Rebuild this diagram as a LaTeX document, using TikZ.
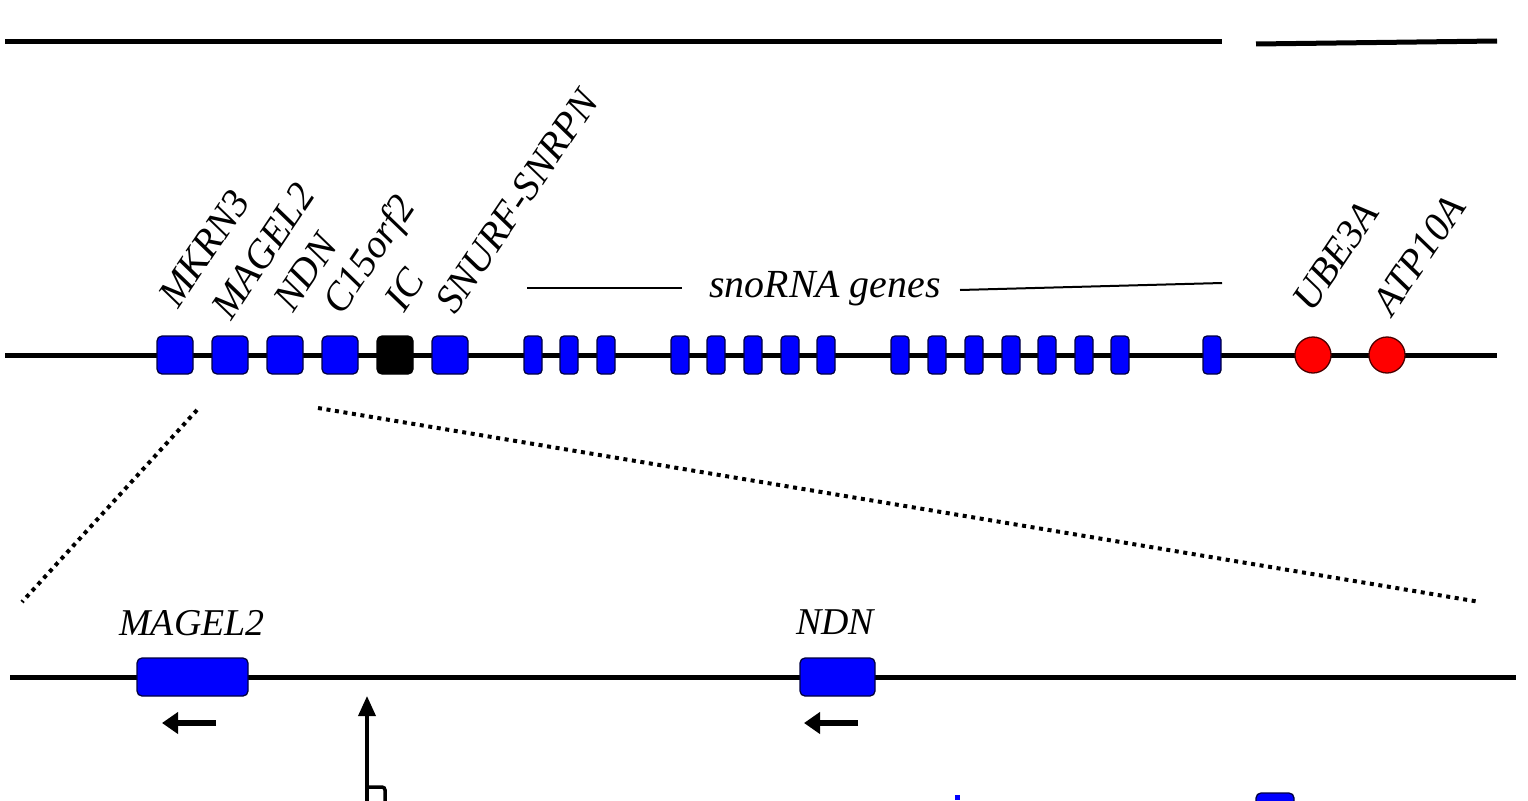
\documentclass[tikz,border=0pt]{standalone}
\usepackage{fontspec}
\setmainfont{Liberation Serif}
\usetikzlibrary{arrows.meta}
\begin{document}
\begin{tikzpicture}[x=1bp,y=-1bp,
  chrom/.style={line width=5bp, black},
  gbox/.style={draw=black!75!blue, line width=1.3bp, fill=blue, rounded corners=5bp, inner sep=0pt, minimum width=36bp, minimum height=38bp},
  sbox/.style={gbox, minimum width=18bp, rounded corners=4bp},
  icbox/.style={gbox, fill=black, draw=black},
  rcirc/.style={circle, draw=black!70!red, line width=1.3bp, fill=red, inner sep=0pt, minimum size=36bp},
  glabel/.style={font=\fontsize{40}{48}\selectfont\itshape, rotate=56, anchor=base west, inner sep=0pt},
  hlabel/.style={font=\fontsize{38}{46}\selectfont\itshape, anchor=base, inner sep=0pt},
  zoomline/.style={line width=4bp, dash pattern=on 4bp off 4.6bp},
  dirarrow/.style={line width=6bp, -{Triangle[width=21bp,length=16bp]}},
  thin/.style={line width=2bp},
]
\useasboundingbox (0,0) rectangle (1528,800);
\clip (0,0) rectangle (1528,800);

% top scale lines
\coordinate (t1a) at (5,42);
\coordinate (t1b) at (1222,42);
\coordinate (t2a) at (1256,44);
\coordinate (t2b) at (1497,41);
\draw[chrom] (t1a) -- (t1b);
\draw[chrom] (t2a) -- (t2b);

% main chromosome line
\coordinate (ma) at (5,355);
\coordinate (mb) at (1497,355);
\draw[chrom] (ma) -- (mb);

% genes
\node[gbox] (mkrn3) at (175,355) {};
\node[gbox] (magel2) at (230,355) {};
\node[gbox] (ndn) at (285,355) {};
\node[gbox] (c15) at (340,355) {};
\node[icbox] (ic) at (395,355) {};
\node[gbox] (snurf) at (450,355) {};

\foreach \x [count=\i] in {533,569,606,680,716,753,790,826,900,937,974,1011,1047,1084,1120,1212}
  \node[sbox] (sno\i) at (\x,355) {};

\node[rcirc] (ube3a) at (1313,355) {};
\node[rcirc] (atp10a) at (1387,355) {};

% rotated labels
\node[glabel] (lmkrn3) at (178,310) {MKRN3};
\node[glabel] (lmagel2) at (231,322) {MAGEL2};
\node[glabel] (lndn) at (293,314) {NDN};
\node[glabel] (lc15) at (342,317) {C15orf2};
\node[glabel] (lic) at (404,314) {IC};
\node[glabel] (lsnurf) at (455,316) {SNURF-SNRPN};
\node[glabel] (lube3a) at (1312,314) {UBE3A};
\node[glabel] (latp10a) at (1392,318) {ATP10A};

% snoRNA label
\node[font=\fontsize{40}{48}\selectfont\itshape, inner sep=0pt, anchor=base] (sno) at (825,297) {snoRNA genes};
\coordinate (sla) at (527,288);
\coordinate (slb) at (682,288);
\coordinate (sra) at (960,290);
\coordinate (srb) at (1222,283);
\draw[thin] (sla) -- (slb);
\draw[thin] (sra) -- (srb);

% zoom lines
\coordinate (zl1) at (197,410);
\coordinate (zl2) at (22,602);
\coordinate (zr1) at (318,408);
\coordinate (zr2) at (1480,602);
\draw[zoomline] (zl1) -- (zl2);
\draw[zoomline] (zr1) -- (zr2);

% lower expanded line
\coordinate (la) at (10,677);
\coordinate (lb) at (1516,677);
\draw[chrom] (la) -- (lb);
\node[gbox, minimum width=111bp, minimum height=38bp] (bmagel2) at (192.5,677) {};
\node[gbox, minimum width=75bp, minimum height=38bp] (bndn) at (837.5,677) {};
\node[hlabel] (tmagel2) at (192,635) {MAGEL2};
\node[hlabel] (tndn) at (835,634) {NDN};

\coordinate (am1) at (216,723);
\coordinate (am2) at (162,723);
\coordinate (an1) at (858,723);
\coordinate (an2) at (804,723);
\draw[dirarrow] (am1) -- (am2);
\draw[dirarrow] (an1) -- (an2);

% vertical arrow with hook
\coordinate (va) at (367,820);
\coordinate (vb) at (367,696);
\coordinate (hk) at (385,830);
\draw[line width=3.5bp, -{Triangle[width=17bp,length=20bp]}] (va) -- (vb);
\draw[line width=3.5bp, rounded corners=3bp] (367,787) -| (hk);

% cut-off items at bottom edge
\node[gbox, minimum width=38bp, minimum height=40bp] (bbot) at (1275,813) {};
\fill[blue] (955,795) rectangle (960,800);
\end{tikzpicture}
\end{document}
